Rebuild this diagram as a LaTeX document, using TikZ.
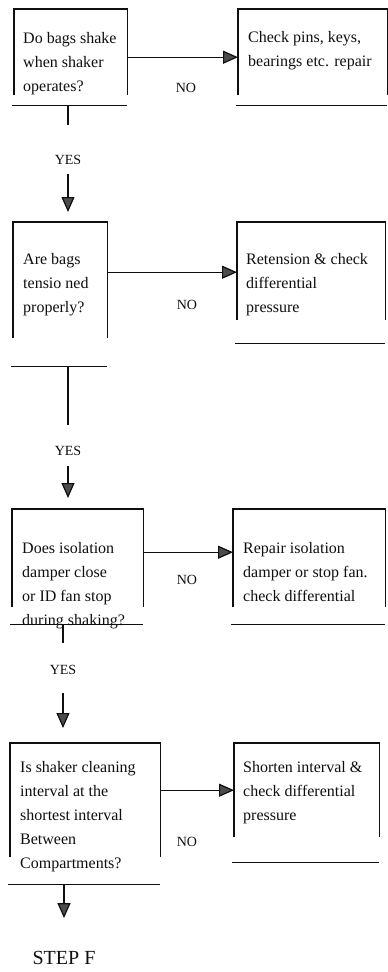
\documentclass[tikz,border=0pt]{standalone}
\usepackage{fontspec}
\setmainfont{Liberation Serif}
\usetikzlibrary{arrows.meta, positioning, calc}
\definecolor{ink}{RGB}{15,15,15}
\definecolor{tip}{RGB}{75,75,75}

\begin{document}
\begin{tikzpicture}[
    x=1pt, y=-1pt,
    frame/.style={anchor=north west, inner sep=0pt},
    txt/.style={anchor=north west, inner sep=0pt, align=left, font=\fontsize{16}{24}\selectfont, text=ink},
    lbl/.style={inner sep=0pt, font=\fontsize{14}{16}\selectfont, text=ink},
    line/.style={draw=ink, line width=1.2pt},
    arr/.style={line, -{Triangle[length=15pt, width=13pt, fill=tip]}},
]
\fill[white] (0,0) rectangle (388,972);
\useasboundingbox (0,0) rectangle (388,972);

% questions on the left
\node[frame, minimum width=113pt, minimum height=86pt] (q1) at (14,9) {};
\node[frame, minimum width=94pt, minimum height=116pt] (q2) at (13,222) {};
\node[frame, minimum width=131pt, minimum height=98pt] (q3) at (12,509) {};
\node[frame, minimum width=150pt, minimum height=114pt] (q4) at (10,743) {};

% remedies on the right
\node[frame, minimum width=149pt, minimum height=86pt] (a1) at (238,9) {};
\node[frame, minimum width=148pt, minimum height=98pt] (a2) at (237,222) {};
\node[frame, minimum width=152pt, minimum height=98pt] (a3) at (233,509) {};
\node[frame, minimum width=145pt, minimum height=94pt] (a4) at (234,743) {};

% open frames, bottom rule set below the sides
\foreach \b/\g in {q1/10, a1/10, q2/28, a2/23, q3/17, a3/17, q4/27, a4/25} {
  \draw[line] (\b.south west) |- (\b.north east) -- (\b.south east);
  \draw[line] ([xshift=-2pt, yshift=-\g pt]\b.south west) -- ([yshift=-\g pt]\b.south east);
  \coordinate (\b-rule) at ([yshift=-\g pt]\b.south);
}

% box texts
\node[txt] (q1t) at (23,32) {Do bags shake\\when shaker\\operates?};
\node[txt] (a1t) at (248,31) {Check pins, keys,\\bearings etc. repair};
\node[txt] (q2t) at (23,253) {Are bags\\tensio ned\\properly?};
\node[txt] (a2t) at (246,253) {Retension \& check\\differential\\pressure};
\node[txt] (q3t) at (22,542) {Does isolation\\damper close\\or ID fan stop\\during shaking?};
\node[txt] (a3t) at (243,542) {Repair isolation\\damper or stop fan.\\check differential};
\node[txt] (q4t) at (20,761) {Is shaker cleaning\\interval at the\\shortest interval\\Between\\Compartments?};
\node[txt] (a4t) at (243,761) {Shorten interval \&\\check differential\\pressure};

% answers
\node[lbl] (no1) at (186,88) {NO};
\node[lbl] (no2) at (187,305) {NO};
\node[lbl] (no3) at (187,580) {NO};
\node[lbl] (no4) at (187,842) {NO};
\node[lbl] (yes1) at (68,160) {YES};
\node[lbl] (yes2) at (68,451) {YES};
\node[lbl] (yes3) at (63,670) {YES};
\node[lbl, font=\fontsize{20}{22}\selectfont] (stepf) at (64,958) {STEP F};

% NO branches
\draw[arr] ([yshift=-5pt]q1.east) -- ([yshift=-5pt]q1.east -| a1.west);
\draw[arr] ([yshift=8pt]q2.east) -- ([yshift=8pt]q2.east -| a2.west);
\draw[arr] ([yshift=6pt]q3.east) -- ([yshift=6pt]q3.east -| a3.west);
\draw[arr] ([yshift=10pt]q4.east) -- ([yshift=10pt]q4.east -| a4.west);

% YES branches
\draw[line, shorten >=30pt] (yes1 |- q1-rule) -- (yes1.north);
\draw[arr, shorten <=9pt, shorten >=10pt] (yes1.south) -- (yes1 |- q2.north);
\draw[line, shorten >=21pt] (yes2 |- q2-rule) -- (yes2.north);
\draw[arr, shorten <=10pt, shorten >=11pt] (yes2.south) -- (yes2 |- q3.north);
\draw[line, shorten >=22pt] (yes3 |- q3-rule) -- (yes3.north);
\draw[arr, shorten <=18pt, shorten >=15pt] (yes3.south) -- (yes3 |- q4.north);
\draw[arr, shorten >=33pt] (stepf |- q4-rule) -- (stepf.north);

\end{tikzpicture}
\end{document}
